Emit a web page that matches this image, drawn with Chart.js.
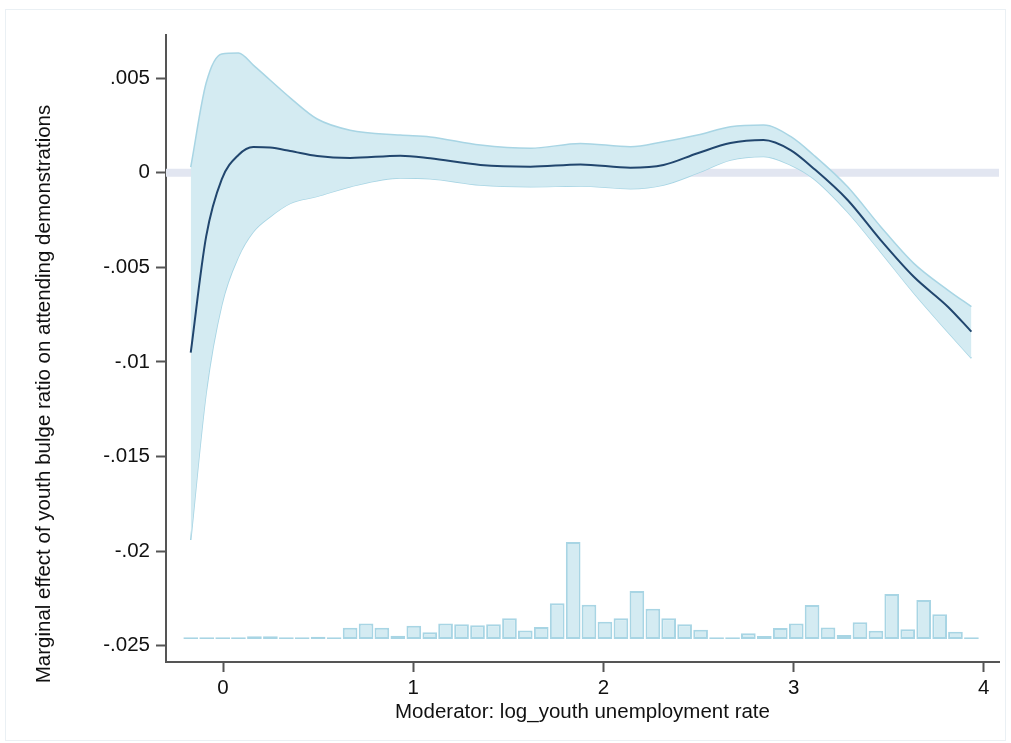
<!DOCTYPE html>
<html>
<head>
<meta charset="utf-8">
<title>Marginal effect of youth bulge ratio</title>
<script src="https://cdn.jsdelivr.net/npm/chart.js@4.4.1/dist/chart.umd.min.js"></script>
<style>
  html, body { margin: 0; padding: 0; background: #fff; }
  #wrap { width: 1011px; height: 743px; }
</style>
</head>
<body>
<div id="wrap"><canvas id="chart" width="1011" height="743"></canvas></div>
<script>
// moderator values where the marginal effect was evaluated
const curveX = [-0.170, -0.089, -0.007, 0.081, 0.159, 0.247, 0.353, 0.495, 0.668, 0.932,
    1.089, 1.353, 1.616, 1.879, 2.142, 2.316, 2.495, 2.668, 2.842, 2.984,
    3.105, 3.284, 3.458, 3.632, 3.811, 3.935];

const meanEffect = [-0.00951, -0.00338, -0.00035, 0.00094, 0.00136, 0.00133, 0.00115, 0.00088, 0.00078, 0.00090,
    0.00076, 0.00041, 0.00032, 0.00044, 0.00027, 0.00041, 0.00103, 0.00157, 0.00173, 0.00120,
    0.00023, -0.00144, -0.00356, -0.00550, -0.00708, -0.00840];

const upperCI = [0.00030, 0.00474, 0.00628, 0.00633, 0.00569, 0.00490, 0.00396, 0.00284, 0.00225, 0.00199,
    0.00189, 0.00146, 0.00129, 0.00155, 0.00137, 0.00164, 0.00199, 0.00243, 0.00252, 0.00192,
    0.00094, -0.00074, -0.00285, -0.00479, -0.00620, -0.00708];

const lowerCI = [-0.01941, -0.01164, -0.00699, -0.00444, -0.00312, -0.00233, -0.00162, -0.00125, -0.00074, -0.00028,
    -0.00032, -0.00065, -0.00074, -0.00070, -0.00084, -0.00065, -0.00002, 0.00067, 0.00086, 0.00041,
    -0.00031, -0.00208, -0.00419, -0.00636, -0.00842, -0.00981];

// histogram of the moderator, drawn along the bottom of the plot
const histX = [-0.170, -0.086, -0.002, 0.081, 0.165, 0.249, 0.333, 0.416, 0.500, 0.584,
    0.668, 0.752, 0.835, 0.919, 1.003, 1.087, 1.170, 1.254, 1.338, 1.422,
    1.506, 1.589, 1.673, 1.757, 1.841, 1.924, 2.008, 2.092, 2.176, 2.260,
    2.343, 2.427, 2.511, 2.595, 2.679, 2.762, 2.846, 2.930, 3.014, 3.097,
    3.181, 3.265, 3.349, 3.433, 3.516, 3.600, 3.684, 3.768, 3.851, 3.935];

const histTop = [-0.02455, -0.02455, -0.02455, -0.02455, -0.02450, -0.02450, -0.02455, -0.02455, -0.02453, -0.02455,
    -0.02405, -0.02382, -0.02405, -0.02447, -0.02394, -0.02429, -0.02382, -0.02387, -0.02392, -0.02387,
    -0.02355, -0.02419, -0.02401, -0.02276, -0.01952, -0.02283, -0.02373, -0.02355, -0.02211, -0.02304,
    -0.02355, -0.02387, -0.02415, -0.02455, -0.02455, -0.02434, -0.02449, -0.02406, -0.02382, -0.02285,
    -0.02403, -0.02443, -0.02376, -0.02421, -0.02227, -0.02413, -0.02258, -0.02334, -0.02426, -0.02455];

const histBase = -0.02465;

const xTickValues = [0, 1, 2, 3, 4];
const xTickLabels = ['0', '1', '2', '3', '4'];
const yTickValues = [-0.025, -0.02, -0.015, -0.01, -0.005, 0, 0.005];
const yTickLabels = ['-.025', '-.02', '-.015', '-.01', '-.005', '0', '.005'];

const xTitle = 'Moderator: log_youth unemployment rate';
const yTitle = 'Marginal effect of youth bulge ratio on attending demonstrations';

const FONT = "'Liberation Sans', Arial, sans-serif";
const FONT_SIZE = 20.5;
const bandFill = '#d4ebf2';
const bandEdge = '#a8d5e4';

const toPoints = (xs, ys) => xs.map((x, i) => ({x, y: ys[i]}));

const framePlugin = {
    id: 'frame',
    beforeDraw(chart) {
        const ctx = chart.ctx;
        ctx.save();
        ctx.strokeStyle = '#eaf0f4';
        ctx.lineWidth = 1;
        ctx.strokeRect(5.5, 9.5, 1000, 731);
        ctx.restore();
    },
    afterDraw(chart) {
        // y title sits a bit lower than the axis middle, as in the original
        const ctx = chart.ctx;
        ctx.save();
        ctx.translate(44, 394);
        ctx.rotate(-Math.PI / 2);
        ctx.font = FONT_SIZE + 'px ' + FONT;
        ctx.fillStyle = '#111';
        ctx.textAlign = 'center';
        ctx.textBaseline = 'middle';
        ctx.fillText(yTitle, 0, 0);
        ctx.restore();
    }
};

new Chart(document.getElementById('chart'), {
    type: 'line',
    data: {
        datasets: [
            {
                label: 'Marginal effect',
                data: toPoints(curveX, meanEffect),
                borderColor: '#21466e',
                borderWidth: 2,
                pointRadius: 0,
                fill: false,
                cubicInterpolationMode: 'monotone',
                order: 1
            },
            {
                label: 'Upper CI',
                data: toPoints(curveX, upperCI),
                borderColor: bandEdge,
                borderWidth: 1.5,
                backgroundColor: bandFill,
                pointRadius: 0,
                fill: '+1',
                cubicInterpolationMode: 'monotone',
                order: 2
            },
            {
                label: 'Lower CI',
                data: toPoints(curveX, lowerCI),
                borderColor: bandEdge,
                borderWidth: 1.5,
                pointRadius: 0,
                fill: false,
                cubicInterpolationMode: 'monotone',
                order: 3
            },
            {
                label: 'Zero',
                data: [{x: -0.3, y: 0}, {x: 4.08, y: 0}],
                borderColor: '#e2e6f1',
                borderWidth: 8,
                pointRadius: 0,
                fill: false,
                order: 5
            },
            {
                type: 'bar',
                label: 'Histogram',
                data: histX.map((x, i) => ({x, y: [histBase, histTop[i]]})),
                backgroundColor: bandFill,
                borderColor: bandEdge,
                borderWidth: 2,
                borderSkipped: false,
                barPercentage: 0.93,
                categoryPercentage: 1,
                order: 4
            }
        ]
    },
    options: {
        responsive: false,
        animation: false,
        layout: {padding: {top: 35, right: 12, left: 0, bottom: 0}},
        plugins: {
            legend: {display: false},
            tooltip: {enabled: false}
        },
        scales: {
            x: {
                type: 'linear',
                min: -0.3,
                max: 4.08,
                offset: false,
                afterBuildTicks: s => { s.ticks = xTickValues.map(v => ({value: v})); },
                afterFit: s => { s.height = 81; },
                ticks: {
                    callback: (v, i) => xTickLabels[i],
                    font: {family: FONT, size: FONT_SIZE},
                    color: '#111',
                    padding: 4,
                    maxRotation: 0
                },
                grid: {
                    drawOnChartArea: false,
                    drawTicks: true,
                    tickLength: 10,
                    tickWidth: 2,
                    color: '#555',
                    offset: false
                },
                border: {display: true, color: '#555', width: 2},
                title: {
                    display: true,
                    text: xTitle,
                    font: {family: FONT, size: FONT_SIZE},
                    color: '#111',
                    padding: {top: 0, bottom: 18}
                }
            },
            y: {
                type: 'linear',
                min: -0.02586,
                max: 0.00728,
                afterBuildTicks: s => { s.ticks = yTickValues.map(v => ({value: v})); },
                afterFit: s => { s.width = 166; },
                ticks: {
                    callback: (v, i) => yTickLabels[i],
                    font: {family: FONT, size: FONT_SIZE},
                    color: '#111',
                    padding: 6
                },
                grid: {
                    drawOnChartArea: false,
                    drawTicks: true,
                    tickLength: 10,
                    tickWidth: 2,
                    color: '#555'
                },
                border: {display: true, color: '#555', width: 2}
            }
        }
    },
    plugins: [framePlugin]
});
</script>
</body>
</html>
